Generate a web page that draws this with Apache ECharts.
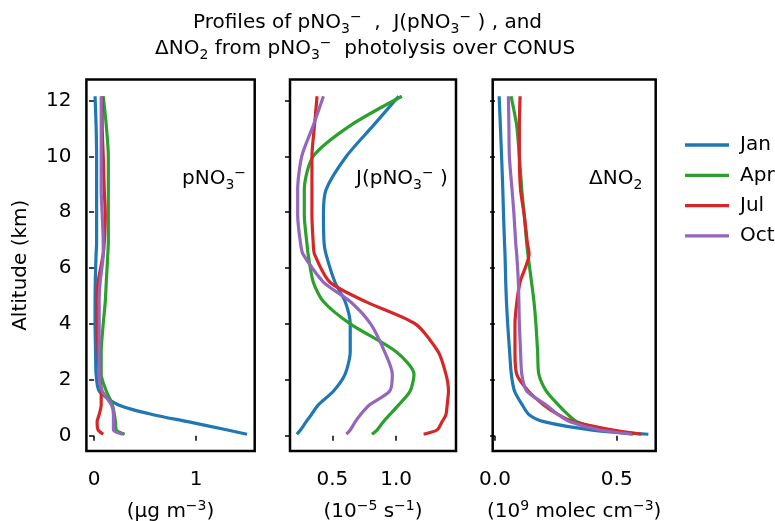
<!DOCTYPE html>
<html>
<head>
<meta charset="utf-8">
<script src="https://cdn.jsdelivr.net/npm/echarts@6/dist/echarts.min.js"></script>
<style>
  html, body { margin: 0; padding: 0; background: #fff; }
  #chart { width: 775px; height: 521px; }
</style>
</head>
<body>
<div id="chart"></div>
<script>
// altitude levels (km), shared by every profile
const altitude = [0.05, 0.2, 0.5, 0.75, 1.1, 1.6, 2.2, 3.0, 4.0, 4.8, 5.5, 6.5, 6.9, 7.9, 8.8, 10.0, 11.1, 12.15];
const months = ["Jan", "Apr", "Jul", "Oct"];
const colors = ["#1f77b4", "#2ca02c", "#d62728", "#9467bd"];

// pNO3- (ug m-3)
const pno3Jan = [1.50, 1.31, 0.92, 0.58, 0.24, 0.05, 0.02, 0.015, 0.01, 0.01, 0.012, 0.02, 0.025, 0.025, 0.025, 0.025, 0.02, 0.01];
const pno3Apr = [0.30, 0.22, 0.21, 0.20, 0.18, 0.12, 0.07, 0.07, 0.09, 0.11, 0.12, 0.135, 0.14, 0.14, 0.14, 0.14, 0.12, 0.09];
const pno3Jul = [0.09, 0.04, 0.03, 0.05, 0.07, 0.07, 0.05, 0.04, 0.03, 0.03, 0.04, 0.09, 0.10, 0.11, 0.10, 0.09, 0.08, 0.08];
const pno3Oct = [0.28, 0.19, 0.19, 0.19, 0.17, 0.08, 0.05, 0.05, 0.05, 0.05, 0.06, 0.09, 0.09, 0.08, 0.07, 0.07, 0.07, 0.07];

// J(pNO3-) (1e-5 s-1)
const jJan = [0.222, 0.25, 0.295, 0.335, 0.39, 0.51, 0.60, 0.64, 0.64, 0.60, 0.52, 0.45, 0.435, 0.43, 0.45, 0.61, 0.82, 1.02];
const jApr = [0.81, 0.85, 0.90, 0.95, 1.02, 1.11, 1.14, 1.00, 0.64, 0.43, 0.35, 0.31, 0.30, 0.28, 0.28, 0.35, 0.64, 1.045];
const jJul = [1.215, 1.32, 1.36, 1.39, 1.40, 1.41, 1.39, 1.33, 1.15, 0.76, 0.48, 0.36, 0.35, 0.34, 0.34, 0.34, 0.36, 0.38];
const jOct = [0.61, 0.64, 0.68, 0.72, 0.79, 0.95, 0.97, 0.91, 0.80, 0.64, 0.43, 0.27, 0.25, 0.228, 0.228, 0.26, 0.35, 0.43];

// delta NO2 (1e9 molec cm-3)
const dJan = [0.63, 0.40, 0.20, 0.14, 0.112, 0.08, 0.067, 0.06, 0.052, 0.047, 0.044, 0.041, 0.039, 0.035, 0.032, 0.027, 0.022, 0.017];
const dApr = [0.569, 0.46, 0.336, 0.30, 0.26, 0.21, 0.18, 0.175, 0.168, 0.16, 0.15, 0.135, 0.13, 0.12, 0.11, 0.10, 0.089, 0.066];
const dJul = [0.60, 0.486, 0.322, 0.26, 0.20, 0.137, 0.089, 0.082, 0.082, 0.09, 0.103, 0.14, 0.133, 0.12, 0.105, 0.10, 0.10, 0.103];
const dOct = [0.562, 0.43, 0.308, 0.26, 0.21, 0.13, 0.11, 0.105, 0.10, 0.098, 0.096, 0.089, 0.085, 0.078, 0.07, 0.059, 0.057, 0.055];

const panels = [
  { data: [pno3Jan, pno3Apr, pno3Jul, pno3Oct], min: -0.075, max: 1.575, ticks: [0, 1], digits: 0,
    unit: "{n|(μg m}{sup|−3}{n|)}" },
  { data: [jJan, jApr, jJul, jOct], min: 0.168, max: 1.469, ticks: [0.5, 1.0], digits: 1,
    unit: "{n|(10}{sup|−5}{n| s}{sup|−1}{n|)}" },
  { data: [dJan, dApr, dJul, dOct], min: -0.0095, max: 0.66, ticks: [0.0, 0.5], digits: 1,
    unit: "{n|(10}{sup|9}{n| molec cm}{sup|−3}{n|)}" },
];
const altTicks = [0, 2, 4, 6, 8, 10, 12];

const grids = [
  { left: 86.4, top: 79.5, width: 168.3, height: 371.5 },
  { left: 290, top: 79.5, width: 166, height: 371.5 },
  { left: 492.7, top: 79.5, width: 163, height: 371.5 },
];

const FONT = "DejaVu Sans";
const FS = 20;
const richStyles = {
  n: { fontSize: FS, fontFamily: FONT, color: "#000", lineHeight: 26, verticalAlign: "middle" },
  sub: { fontSize: 14, fontFamily: FONT, color: "#000", lineHeight: 14, verticalAlign: "bottom" },
  sup: { fontSize: 14, fontFamily: FONT, color: "#000", lineHeight: 14, verticalAlign: "top" },
};

const chart = echarts.init(document.getElementById("chart"));

const series = [];
panels.forEach((p, pi) => {
  p.data.forEach((vals, mi) => {
    series.push({
      name: months[mi],
      type: "line",
      xAxisIndex: pi,
      yAxisIndex: pi,
      showSymbol: false,
      smooth: 0.25,
      lineStyle: { width: 3.2, color: colors[mi] },
      itemStyle: { color: colors[mi] },
      data: vals.map((v, i) => [v, altitude[i]]),
    });
  });
});

const option = {
  animation: false,
  textStyle: { fontFamily: FONT },
  grid: grids.map((g) => ({
    ...g, show: true, outerBoundsMode: "none",
    borderColor: "#000", borderWidth: 2.5, backgroundColor: "#fff",
  })),
  xAxis: panels.map((p, pi) => ({
    type: "value",
    gridIndex: pi,
    min: p.min,
    max: p.max,
    splitLine: { show: false },
    axisLine: { show: false },
    axisTick: { show: true, length: 5, lineStyle: { color: "#000", width: 1.5 }, customValues: p.ticks },
    axisLabel: {
      color: "#000", fontSize: FS, fontFamily: FONT, margin: 19,
      customValues: p.ticks,
      formatter: (v) => v.toFixed(p.digits),
    },
    name: p.unit,
    nameLocation: "middle",
    nameGap: 48,
    nameTextStyle: { rich: richStyles, fontSize: FS, color: "#000", fontFamily: FONT },
  })),
  yAxis: panels.map((p, pi) => ({
    type: "value",
    gridIndex: pi,
    min: -0.55,
    max: 12.75,
    splitLine: { show: false },
    axisLine: { show: false },
    axisTick: { show: true, length: 5, lineStyle: { color: "#000", width: 1.5 }, customValues: altTicks },
    axisLabel: { show: pi === 0, color: "#000", fontSize: FS, fontFamily: FONT, margin: 15, customValues: altTicks },
    name: pi === 0 ? "Altitude (km)" : "",
    nameLocation: "middle",
    nameGap: 56,
    nameTextStyle: { fontSize: FS, color: "#000", fontFamily: FONT },
  })),
  legend: {
    orient: "vertical",
    left: 680,
    top: 130,
    icon: "rect",
    itemWidth: 44,
    itemHeight: 3.3,
    itemGap: 10.3,
    data: months,
    textStyle: { fontSize: FS, color: "#000", fontFamily: FONT, padding: [0, 0, 0, 6] },
  },
  graphic: [
    { type: "text", left: 193, top: 10, style: {
      text: "{n|Profiles of pNO}{sub|3}{sup|−}{n|  ,  J(pNO}{sub|3}{sup|−}{n| ) , and}",
      rich: richStyles } },
    { type: "text", left: 155, top: 36, style: {
      text: "{n|ΔNO}{sub|2}{n| from pNO}{sub|3}{sup|−}{n|  photolysis over CONUS}",
      rich: richStyles } },
    { type: "text", x: 182, y: 166, style: { text: "{n|pNO}{sub|3}{sup|−}", rich: richStyles } },
    { type: "text", x: 356, y: 166, style: { text: "{n|J(pNO}{sub|3}{sup|−}{n| )}", rich: richStyles } },
    { type: "text", x: 589, y: 166, style: { text: "{n|ΔNO}{sub|2}", rich: richStyles } },
  ],
  series: series,
};
chart.setOption(option);
</script>
</body>
</html>
